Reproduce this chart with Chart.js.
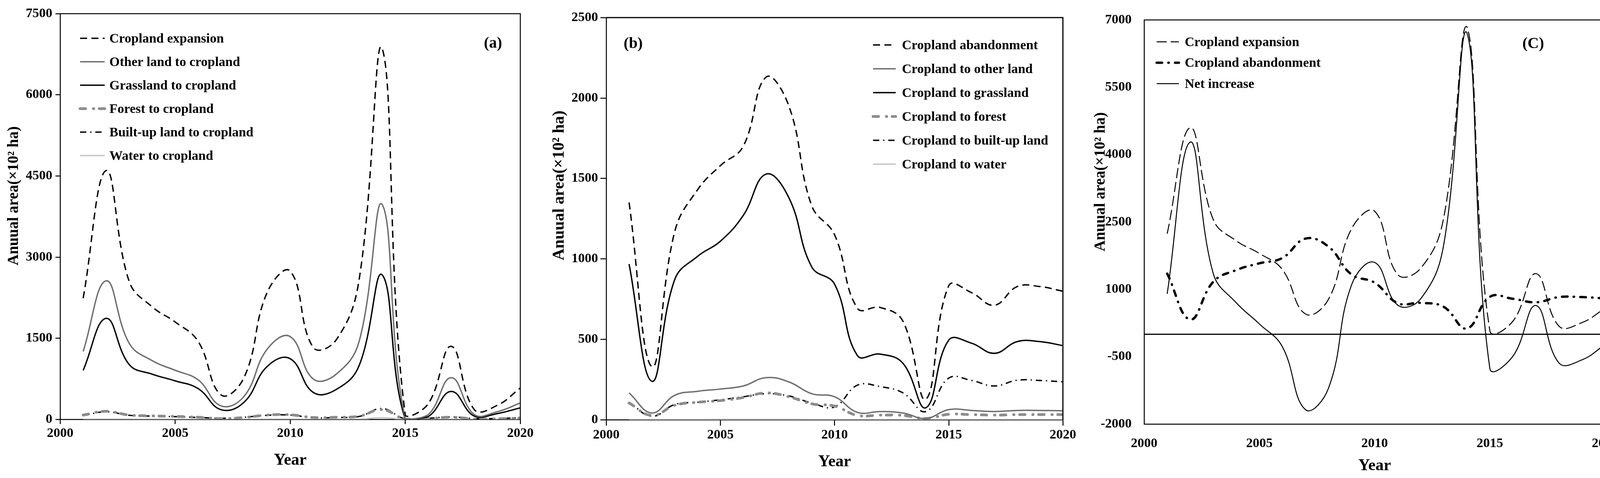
<!DOCTYPE html>
<html lang="en">
<head>
<meta charset="UTF-8" />
<title>Cropland expansion and abandonment 2001-2020</title>
<script src="https://cdn.jsdelivr.net/npm/chart.js"></script>
<style>
  html, body { margin: 0; padding: 0; background: #fff; width: 4165px; height: 1223px; overflow: hidden; }
  .figure { position: relative; width: 4165px; height: 1223px; }
  .panel { position: absolute; top: 0; height: 1223px; }
  .panel canvas { display: block; }
  #pa { left: 0; width: 1400px; }
  #pb { left: 1400px; width: 1400px; }
  #pc { left: 2800px; width: 1365px; }
</style>
</head>
<body>
<div class="figure">
  <div class="panel" id="pa"><canvas id="chartA" width="1400" height="1223"></canvas></div>
  <div class="panel" id="pb"><canvas id="chartB" width="1400" height="1223"></canvas></div>
  <div class="panel" id="pc"><canvas id="chartC" width="1365" height="1223"></canvas></div>
</div>

<script>
  // values in 10^2 ha
  const years = [2001, 2002, 2003, 2004, 2005, 2006, 2007, 2008, 2009, 2010,
                 2011, 2012, 2013, 2014, 2015, 2016, 2017, 2018, 2019, 2020];

  // (a) sources of cropland expansion
  const expansion   = [2240, 4600, 2550, 2080, 1800, 1440, 450, 780, 2350, 2740, 1330, 1470, 2600, 6850, 80, 290, 1350, 180, 260, 580];
  const otherToCrop = [1256, 2562, 1406, 1085, 907, 730, 249, 430, 1299, 1530, 747, 836, 1450, 3968, 10, 89, 772, 89, 142, 302];
  const grassToCrop = [907, 1868, 1014, 836, 712, 569, 178, 320, 979, 1121, 498, 552, 1000, 2669, 0, 53, 516, 60, 107, 214];
  const forestToCrop = [80, 150, 80, 65, 55, 40, 15, 35, 80, 85, 35, 40, 60, 180, 5, 15, 40, 10, 12, 25];
  const builtToCrop = [70, 140, 75, 60, 50, 35, 20, 40, 75, 80, 30, 35, 55, 200, 8, 20, 45, 15, 15, 30];
  const waterToCrop = [3, 6, 4, 3, 3, 2, 2, 2, 4, 5, 3, 3, 5, 30, 1, 2, 6, 2, 2, 3];

  // (b) destinations of cropland abandonment
  const abandonment = [1350, 330, 1170, 1430, 1580, 1700, 2130, 1950, 1330, 1150, 693, 698, 611, 128, 833, 790, 712, 828, 828, 799];
  const cropToOther = [167, 42, 152, 177, 191, 210, 262, 235, 162, 143, 46, 51, 42, 8, 63, 58, 51, 58, 58, 56];
  const cropToGrass = [968, 239, 872, 1016, 1110, 1270, 1527, 1380, 950, 843, 399, 408, 350, 75, 495, 476, 413, 486, 486, 461];
  const cropToForest = [104, 27, 90, 109, 119, 138, 167, 143, 99, 85, 27, 29, 27, 8, 34, 32, 29, 32, 32, 32];
  const cropToBuilt = [109, 22, 95, 109, 124, 143, 162, 148, 104, 80, 215, 206, 167, 51, 259, 244, 210, 246, 244, 236];
  const cropToWater = [2, 1, 2, 2, 3, 3, 3, 3, 2, 2, 1, 1, 1, 0, 2, 2, 2, 2, 2, 2];

  // (c) net increase
  const netIncrease = [900, 4280, 1350, 700, 230, -280, -1680, -1200, 1100, 1600, 650, 790, 2000, 6720, -760, -490, 640, -640, -570, -230];

  const serif = '"Liberation Serif", "Times New Roman", serif';
  const tickFont = { family: serif, size: 34, weight: 'bold' };
  const yearFont = { family: serif, size: 42, weight: 'bold' };

  // line styles
  const sDash   = { borderColor: '#000', borderWidth: 3.5, borderDash: [18, 11] };
  const sGray   = { borderColor: '#6e6e6e', borderWidth: 3.5 };
  const sBlack  = { borderColor: '#000', borderWidth: 3.5 };
  const sForest = { borderColor: '#8c8c8c', borderWidth: 7, borderDash: [14, 20, 1, 14], borderCapStyle: 'round' };
  const sBuilt  = { borderColor: '#000', borderWidth: 3.5, borderDash: [16, 10, 3, 10] };
  const sWater  = { borderColor: '#c4c4c4', borderWidth: 3.5 };

  function series(label, values, style) {
    return Object.assign({
      label: label,
      data: values.map((v, i) => ({ x: years[i], y: v })),
      fill: false,
      pointRadius: 0,
      tension: 0.42,
      borderCapStyle: 'butt'
    }, style);
  }

  // frame, zero line, legend, panel tag and y title
  const panelDecor = {
    id: 'panelDecor',
    afterDraw(chart, args, o) {
      const ctx = chart.ctx;
      const a = chart.chartArea;
      ctx.save();
      ctx.strokeStyle = '#000';
      ctx.lineWidth = o.frameWidth;
      ctx.beginPath();
      ctx.moveTo(a.left, a.top);
      ctx.lineTo(a.right, a.top);
      ctx.lineTo(a.right, a.bottom);
      ctx.stroke();

      if (o.zeroLine) {
        const y0 = chart.scales.y.getPixelForValue(0);
        ctx.lineWidth = 3;
        ctx.beginPath();
        ctx.moveTo(a.left, y0);
        ctx.lineTo(a.right, y0);
        ctx.stroke();
      }

      const lg = o.legend;
      ctx.font = lg.font;
      ctx.textBaseline = 'middle';
      ctx.textAlign = 'left';
      chart.data.datasets.forEach((ds, i) => {
        const x = a.left + lg.x;
        const y = a.top + lg.y + i * lg.rowGap;
        ctx.strokeStyle = ds.borderColor;
        ctx.lineWidth = ds.borderWidth;
        ctx.lineCap = ds.borderCapStyle || 'butt';
        ctx.setLineDash(ds.borderDash || []);
        ctx.beginPath();
        ctx.moveTo(x, y);
        ctx.lineTo(x + lg.sampleW, y);
        ctx.stroke();
        ctx.setLineDash([]);
        ctx.fillStyle = '#000';
        ctx.fillText(ds.label, x + lg.sampleW + lg.gap, y + 2);
      });

      ctx.font = o.tag.font;
      ctx.textAlign = 'center';
      ctx.fillText(o.tag.text, a.left + o.tag.x, a.top + o.tag.y);

      const t = o.yTitle;
      ctx.translate(t.x, (a.top + a.bottom) / 2 + t.dy);
      ctx.rotate(-Math.PI / 2);
      ctx.font = t.font;
      ctx.textAlign = 'center';
      ctx.textBaseline = 'alphabetic';
      ctx.fillText(t.text, 0, 0);
      ctx.restore();
    }
  };

  function makeChart(id, datasets, c) {
    const tickGrid = c.ticks
      ? { display: true, drawOnChartArea: false, drawTicks: true, tickLength: c.tickLen, color: '#000', lineWidth: 2.5 }
      : { display: false };
    return new Chart(document.getElementById(id), {
      type: 'line',
      data: { datasets: datasets },
      options: {
        responsive: false,
        animation: false,
        devicePixelRatio: 1,
        layout: { padding: { top: c.top, right: c.right, left: 0, bottom: 0 } },
        plugins: {
          legend: { display: false },
          tooltip: { enabled: false },
          panelDecor: c.decor
        },
        scales: {
          x: {
            type: 'linear', min: 2000, max: 2020,
            ticks: { stepSize: 5, font: tickFont, color: '#000', padding: c.xPad, maxRotation: 0,
                     callback: v => String(v) },
            grid: tickGrid,
            border: { display: true, color: '#000', width: 2.5 },
            title: { display: true, text: 'Year', font: yearFont, color: '#000',
                     padding: { top: 0, bottom: c.yearPad } },
            afterFit: s => { s.height = c.bottomH; }
          },
          y: {
            min: c.yMin, max: c.yMax,
            ticks: { stepSize: c.yStep, font: tickFont, color: '#000', padding: c.yPad,
                     callback: v => String(v) },
            grid: tickGrid,
            border: { display: true, color: '#000', width: 2.5 },
            afterFit: s => { s.width = c.leftW; }
          }
        }
      },
      plugins: [panelDecor]
    });
  }

  const yTitleText = 'Anuual area(×10² ha)';
  const legendFont = 'bold 34px ' + serif;
  const yTitleFont = 'bold 39px ' + serif;

  makeChart('chartA', [
    series('Cropland expansion', expansion, sDash),
    series('Other land to cropland', otherToCrop, sGray),
    series('Grassland to cropland', grassToCrop, sBlack),
    series('Forest to cropland', forestToCrop, sForest),
    series('Built-up land to cropland', builtToCrop, sBuilt),
    series('Water to cropland', waterToCrop, sWater)
  ], {
    top: 35, right: 68, leftW: 154, bottomH: 150, ticks: true, tickLen: 12,
    yMin: 0, yMax: 7500, yStep: 1500, xPad: 4, yPad: 8, yearPad: 20,
    decor: {
      frameWidth: 2.5, zeroLine: false,
      legend: { x: 51, y: 63, rowGap: 60, sampleW: 63, gap: 12, font: legendFont },
      tag: { text: '(a)', x: 1108, y: 77, font: 'bold 40px ' + serif },
      yTitle: { text: yTitleText, x: 46, dy: -53, font: yTitleFont }
    }
  });

  makeChart('chartB', [
    series('Cropland abandonment', abandonment, sDash),
    series('Cropland to other land', cropToOther, sGray),
    series('Cropland to grassland', cropToGrass, sBlack),
    series('Cropland to forest', cropToForest, sForest),
    series('Cropland to built-up land', cropToBuilt, sBuilt),
    series('Cropland to water', cropToWater, sWater)
  ], {
    top: 45, right: 79, leftW: 152, bottomH: 149, ticks: true, tickLen: 15,
    yMin: 0, yMax: 2500, yStep: 500, xPad: 4, yPad: 6, yearPad: 16,
    decor: {
      frameWidth: 3, zeroLine: false,
      legend: { x: 683, y: 70, rowGap: 61, sampleW: 58, gap: 16, font: legendFont },
      tag: { text: '(b)', x: 69, y: 68, font: 'bold 40px ' + serif },
      yTitle: { text: yTitleText, x: 43, dy: -85, font: 'bold 42px ' + serif }
    }
  });

  makeChart('chartC', [
    series('Cropland expansion', expansion, { borderColor: '#000', borderWidth: 2.5, borderDash: [26, 10] }),
    series('Cropland abandonment', abandonment, { borderColor: '#000', borderWidth: 6, borderDash: [14, 16, 1, 16], borderCapStyle: 'round' }),
    series('Net increase', netIncrease, { borderColor: '#000', borderWidth: 2.5 })
  ], {
    top: 51, right: 46, leftW: 129, bottomH: 138, ticks: false, tickLen: 0,
    yMin: -2000, yMax: 7000, yStep: 1500, xPad: 22, yPad: 24, yearPad: 6,
    decor: {
      frameWidth: 2.5, zeroLine: true,
      legend: { x: 32, y: 56, rowGap: 53.5, sampleW: 57, gap: 15, font: legendFont },
      tag: { text: '(C)', x: 996, y: 62, font: 'bold 40px ' + serif },
      yTitle: { text: yTitleText, x: 28, dy: -103, font: yTitleFont }
    }
  });
</script>
</body>
</html>
